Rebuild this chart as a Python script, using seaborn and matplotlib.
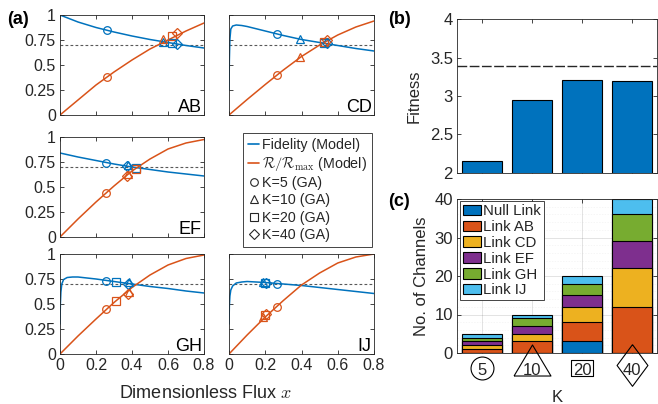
import matplotlib
matplotlib.use('Agg')
import matplotlib.pyplot as plt
import seaborn as sns
import pandas as pd
from matplotlib.lines import Line2D
from matplotlib.patches import Patch

sns.set_theme(style='white')
plt.rcParams['font.family'] = ['Liberation Sans', 'DejaVu Sans']
plt.rcParams['mathtext.fontset'] = 'cm'

# colours (MATLAB defaults)
BLUE = '#0072BD'
ORANGE = '#D95319'
DARK = '#262626'
link_colors = ['#0072BD', '#D95319', '#EDB120', '#7E2F8E', '#77AC30', '#4DBEEE']

# ---- panel (a): model curves ----
x_coarse = [0, 0.1, 0.2, 0.3, 0.4, 0.5, 0.6, 0.7, 0.8]
x_fine = [0, 0.002, 0.005, 0.01, 0.02, 0.04, 0.07, 0.1, 0.2, 0.3, 0.4, 0.5, 0.6, 0.7, 0.8]

fid_AB = [1.0, 0.93, 0.875, 0.83, 0.79, 0.755, 0.725, 0.695, 0.67]
rate_AB = [0, 0.15, 0.30, 0.43, 0.55, 0.66, 0.75, 0.84, 0.92]
fid_CD = [0.25, 0.55, 0.76, 0.86, 0.89, 0.90, 0.895, 0.885, 0.84, 0.795, 0.755, 0.725, 0.695, 0.665, 0.64]
rate_CD = [0, 0.155, 0.305, 0.45, 0.585, 0.70, 0.80, 0.88, 0.94]
fid_EF = [0.84, 0.80, 0.765, 0.73, 0.70, 0.675, 0.65, 0.63, 0.61]
rate_EF = [0, 0.18, 0.35, 0.51, 0.66, 0.78, 0.88, 0.94, 0.975]
fid_GH = [0.30, 0.50, 0.62, 0.70, 0.745, 0.765, 0.77, 0.77, 0.75, 0.725, 0.70, 0.675, 0.655, 0.63, 0.61]
rate_GH = [0, 0.18, 0.35, 0.515, 0.665, 0.79, 0.89, 0.955, 0.99]
fid_IJ = [0.30, 0.48, 0.58, 0.64, 0.68, 0.71, 0.72, 0.725, 0.715, 0.70, 0.685, 0.665, 0.645, 0.625, 0.605]
rate_IJ = [0, 0.19, 0.37, 0.535, 0.69, 0.81, 0.91, 0.97, 1.0]

# GA results for K = 5, 10, 20, 40
ga_x_AB = [0.26, 0.57, 0.62, 0.65]
ga_fid_AB = [0.85, 0.73, 0.72, 0.71]
ga_rate_AB = [0.38, 0.76, 0.79, 0.82]
ga_x_CD = [0.265, 0.39, 0.525, 0.54]
ga_fid_CD = [0.81, 0.76, 0.725, 0.72]
ga_rate_CD = [0.40, 0.58, 0.73, 0.75]
ga_x_EF = [0.255, 0.38, 0.42, 0.37]
ga_fid_EF = [0.745, 0.72, 0.69, 0.71]
ga_rate_EF = [0.445, 0.63, 0.68, 0.61]
ga_x_GH = [0.255, 0.385, 0.31, 0.375]
ga_fid_GH = [0.73, 0.72, 0.72, 0.70]
ga_rate_GH = [0.45, 0.62, 0.53, 0.60]
ga_x_IJ = [0.265, 0.19, 0.20, 0.205]
ga_fid_IJ = [0.70, 0.72, 0.71, 0.71]
ga_rate_IJ = [0.47, 0.37, 0.39, 0.40]

fid_threshold = 0.7
ga_markers = ['o', '^', 's', 'D']
ga_labels = ['K=5 (GA)', 'K=10 (GA)', 'K=20 (GA)', 'K=40 (GA)']

# ---- panel (b) ----
K_labels = ['5', '10', '20', '40']
fitness = [2.15, 2.95, 3.21, 3.20]
fitness_max = 3.39

# ---- panel (c) ----
link_names = ['Null Link', 'Link AB', 'Link CD', 'Link EF', 'Link GH', 'Link IJ']
n_null = [0, 0, 3, 0]
n_AB = [1, 3, 5, 12]
n_CD = [1, 2, 4, 10]
n_EF = [1, 2, 3, 7]
n_GH = [1, 2, 3, 7]
n_IJ = [1, 1, 2, 4]

W, H = 658, 404
fig = plt.figure(figsize=(W / 100, H / 100), dpi=100)


def fax(left, top, right, bottom):
    return fig.add_axes([left / W, 1 - bottom / H, (right - left) / W, (bottom - top) / H])


def matlab_style(ax, size):
    for s in ax.spines.values():
        s.set_color(DARK)
        s.set_linewidth(0.6)
        s.set_visible(True)
    ax.tick_params(direction='in', top=True, right=True, bottom=True, left=True,
                   length=3, width=0.6, color=DARK, labelcolor=DARK, labelsize=size, pad=3)


panels = [
    ('AB', (60, 15, 204, 115), x_coarse, fid_AB, rate_AB, ga_x_AB, ga_fid_AB, ga_rate_AB),
    ('CD', (229, 15, 374, 115), x_fine, fid_CD, rate_CD, ga_x_CD, ga_fid_CD, ga_rate_CD),
    ('EF', (60, 137, 204, 237), x_coarse, fid_EF, rate_EF, ga_x_EF, ga_fid_EF, ga_rate_EF),
    ('GH', (60, 254, 204, 354), x_fine, fid_GH, rate_GH, ga_x_GH, ga_fid_GH, ga_rate_GH),
    ('IJ', (229, 254, 374, 354), x_fine, fid_IJ, rate_IJ, ga_x_IJ, ga_fid_IJ, ga_rate_IJ),
]

for name, box, xf, fid, rate, gx, gf, gr in panels:
    ax = fax(*box)
    ax.axhline(fid_threshold, color='0.35', lw=0.8, ls=(0, (2.5, 2)))
    sns.lineplot(x=xf, y=fid, ax=ax, color=BLUE, lw=1.1)
    sns.lineplot(x=x_coarse, y=rate, ax=ax, color=ORANGE, lw=1.1)
    for i in range(4):
        ax.plot(gx[i], gf[i], marker=ga_markers[i], mfc='none', mec=BLUE, ms=5.5, mew=0.9)
        ax.plot(gx[i], gr[i], marker=ga_markers[i], mfc='none', mec=ORANGE, ms=5.5, mew=0.9)
    ax.set_xlim(0, 0.8)
    ax.set_ylim(0, 1)
    ax.set_xticks([0, 0.2, 0.4, 0.6, 0.8])
    ax.set_yticks([0, 0.25, 0.5, 0.75, 1])
    matlab_style(ax, 11.5)
    if box[0] == 60:
        ax.set_yticklabels(['0', '0.25', '0.5', '0.75', '1'])
    else:
        ax.set_yticklabels([])
    if box[3] == 354:
        ax.set_xticklabels(['0', '0.2', '0.4', '0.6', '0.8'])
    else:
        ax.set_xticklabels([])
    ax.set_xlabel('')
    ax.set_ylabel('')
    ax.text(0.985, 0.03, name, transform=ax.transAxes, ha='right', va='baseline',
            fontsize=13, color='black')

handles = [Line2D([], [], color=BLUE, lw=1.2, label='Fidelity (Model)'),
           Line2D([], [], color=ORANGE, lw=1.2, label=r'$\mathcal{R}/\mathcal{R}_{\max}$ (Model)')]
for m, lab in zip(ga_markers, ga_labels):
    handles.append(Line2D([], [], marker=m, ls='none', mfc='none', mec=DARK, ms=5.5, mew=0.8, label=lab))
leg = fig.legend(handles=handles, loc='upper left', bbox_to_anchor=(243 / W, 1 - 133 / H),
                 fontsize=10.3, frameon=True, fancybox=False, edgecolor=DARK, framealpha=1,
                 handlelength=0.8, handletextpad=0.2, borderpad=0.35, labelspacing=0.22,
                 borderaxespad=0)
leg.get_frame().set_linewidth(0.6)

fig.text(205 / W, 1 - 393 / H, r'Dimensionless Flux $x$', ha='center', va='center',
         fontsize=13, color=DARK)

# ---- panel (b) ----
axb = fax(457, 19, 657, 173)
df_b = pd.DataFrame({'K': K_labels, 'fitness': fitness})
sns.barplot(data=df_b, x='K', y='fitness', ax=axb, color=BLUE, saturation=1,
            width=0.8, edgecolor='black', linewidth=0.8)
axb.axhline(fitness_max, color=DARK, lw=1.0, ls=(0, (7, 1.8)))
axb.set_xlim(-0.5, 3.5)
axb.set_ylim(2, 4)
axb.set_yticks([2, 2.5, 3, 3.5, 4])
axb.set_yticklabels(['2', '2.5', '3', '3.5', '4'])
axb.set_xticklabels([])
axb.set_xlabel('')
axb.set_ylabel('Fitness', fontsize=12, color=DARK, labelpad=6)
matlab_style(axb, 12)

# ---- panel (c) ----
axc = fax(457, 199, 657, 353)
counts = [n_null, n_AB, n_CD, n_EF, n_GH, n_IJ]
# draw cumulative totals from the top segment down so each bar covers the one below
for j in range(5, -1, -1):
    tops = [sum(c[i] for c in counts[:j + 1]) for i in range(4)]
    sns.barplot(x=K_labels, y=tops, ax=axc, color=link_colors[j], saturation=1,
                width=0.8, edgecolor='black', linewidth=0.8)
axc.set_xlim(-0.5, 3.5)
axc.set_ylim(0, 40)
axc.set_yticks([0, 10, 20, 30, 40])
axc.set_yticks(range(0, 41, 2), minor=True)
axc.grid(True, which='major', color=DARK, alpha=0.15, lw=0.6)
axc.grid(True, which='minor', axis='y', color=DARK, alpha=0.06, lw=0.5, ls=(0, (2, 2)))
axc.set_axisbelow(True)
matlab_style(axc, 12)
axc.tick_params(axis='x', pad=7)
axc.tick_params(which='minor', length=0)
axc.set_ylabel('No. of Channels', fontsize=12, color=DARK, labelpad=4)
axc.set_xlabel('K', fontsize=12, color=DARK, labelpad=9)

# outline shapes around the K tick labels (closed paths)
tri = [(-1, -0.84), (1, -0.84), (0, 0.84), (-1, -0.84)]
rect = [(-1, -0.74), (1, -0.74), (1, 0.74), (-1, 0.74), (-1, -0.74)]
diam = [(0, 1), (0.74, 0), (0, -1), (-0.74, 0), (0, 1)]
shapes = [('o', -0.097, 16.5), (tri, -0.048, 26.6), (rect, -0.10, 16.5), (diam, -0.075, 30)]
for i, (m, yy, ms) in enumerate(shapes):
    axc.plot(i, yy, marker=m, transform=axc.get_xaxis_transform(), clip_on=False,
             mfc='none', mec='black', ms=ms, mew=0.8, zorder=5)

leg_c = axc.legend(handles=[Patch(facecolor=c, edgecolor='black', lw=0.8, label=n)
                            for c, n in zip(link_colors, link_names)],
                   loc='upper left', bbox_to_anchor=(0.015, 0.985), fontsize=10.8,
                   frameon=True, fancybox=False, edgecolor=DARK, framealpha=1,
                   handlelength=1.2, handleheight=0.7, handletextpad=0.15,
                   borderpad=0.2, labelspacing=0.12, borderaxespad=0)
leg_c.get_frame().set_linewidth(0.6)

for lab, x, y in [('(a)', 7, 19), ('(b)', 388, 19), ('(c)', 388, 201)]:
    fig.text(x / W, 1 - y / H, lab, fontsize=13, fontweight='bold', va='center', color='black')

fig.savefig('out.png', dpi=100)
